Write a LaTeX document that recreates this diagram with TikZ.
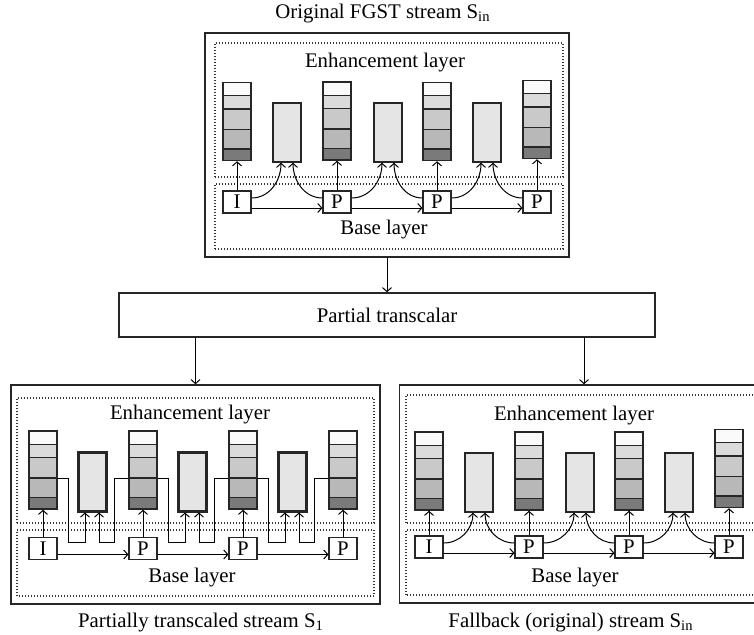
\documentclass[tikz,border=0pt]{standalone}
\usepackage{fontspec}
\setmainfont{Liberation Serif}
\usepackage{tikz}
\usetikzlibrary{arrows.meta,calc,positioning}

\newcommand\band[3]{%
  \filldraw[fill=#3,draw=black!85,line width=0.7pt]
    ($(path picture bounding box.north west)!#1!(path picture bounding box.south west)$) rectangle
    ($(path picture bounding box.north east)!#2!(path picture bounding box.south east)$);}

\begin{document}
\begin{tikzpicture}[x=0.5pt,y=0.5pt,>={Straight Barb[length=2pt,width=4.5pt]},node distance=50pt,
  font=\fontsize{10.4}{12}\selectfont,line width=0.5pt]
\tikzstyle{panel}=[draw=black!85,line width=0.75pt,inner sep=0pt]
\tikzstyle{layer}=[draw=black!80,line width=0.6pt,dash pattern=on 0.5pt off 1pt]
\tikzstyle{frame}=[draw=black!85,line width=0.6pt,fill=white,minimum width=14pt,minimum height=11pt,inner sep=0pt]
\tikzstyle{stack}=[draw=black!85,line width=0.75pt,minimum width=14pt,minimum height=39pt,inner sep=0pt,
  path picture={\band{0}{0.17}{black!2}\band{0.17}{0.34}{black!14}\band{0.34}{0.6}{black!21}%
    \band{0.6}{0.85}{black!28}\band{0.85}{1}{black!52}}]
\tikzstyle{bframe}=[draw=black!85,line width=0.75pt,fill=black!10,minimum width=14pt,minimum height=29.5pt,inner sep=0pt]
\tikzstyle{bthick}=[bframe,line width=1.5pt]

\clip (0,0) rectangle (754,634);

% original stream
\node (ttitle) at (383,620) {Original FGST stream S\textsubscript{in}};
\node[panel,minimum width=182pt,minimum height=112pt] (top) at (387,489) {};
\draw[layer] (215,457) rectangle (563,591);
\draw[layer] (215,385) rectangle (563,450);
\node (tenh) at (385,571) {Enhancement layer};
\node (tbase) at (384,404) {Base layer};
\node[frame] (tI) at (237,432) {I};
\node[frame] (tP1) [right of=tI] {P};
\node[frame] (tP2) [right of=tP1] {P};
\node[frame] (tP3) [right of=tP2] {P};
\node[stack] (tE1) at (237,512.5) {};
\node[stack] (tE2) at (337,513) {};
\node[stack] (tE3) at (437,512.5) {};
\node[stack] (tE4) at (537,514.5) {};
\node[bframe] (tB1) at (287,501.5) {};
\node[bframe] (tB2) at (388,501.5) {};
\node[bframe] (tB3) at (487,501.5) {};
\path[->] (tI) edge (tE1)
          (tP1) edge (tE2)
          (tP2) edge (tE3)
          (tP3) edge (tE4)
          ([yshift=-3pt]tI.east) edge ([yshift=-3pt]tP1.west)
          ([yshift=-3pt]tP1.east) edge ([yshift=-3pt]tP2.west)
          ([yshift=-3pt]tP2.east) edge ([yshift=-3pt]tP3.west)
          ([yshift=2pt]tI.east) edge [out=0,in=-90] ([xshift=-3pt]tB1.south)
          ([yshift=2pt]tP1.west) edge [out=180,in=-90] ([xshift=3pt]tB1.south)
          ([yshift=2pt]tP1.east) edge [out=0,in=-90] ([xshift=-3pt]tB2.south)
          ([yshift=2pt]tP2.west) edge [out=180,in=-90] ([xshift=3pt]tB2.south)
          ([yshift=2pt]tP2.east) edge [out=0,in=-90] ([xshift=-3pt]tB3.south)
          ([yshift=2pt]tP3.west) edge [out=180,in=-90] ([xshift=3pt]tB3.south);

% transcalar
\node[panel,minimum width=268pt,minimum height=22pt] (trans) at (387,319) {Partial transcalar};
\draw[->] (top) -- (trans);

% partially transcaled stream
\node[panel,minimum width=184.5pt,minimum height=109.5pt] (lpanel) at (195.5,139.5) {};
\draw[->] (trans.south -| lpanel.north) -- (lpanel.north);
\draw[layer] (17,111) rectangle (374,236);
\draw[layer] (17,38) rectangle (374,104);
\node (lenh) at (190,219) {Enhancement layer};
\node (lbase) at (192,56) {Base layer};
\node (lcap) at (201,11) {Partially transcaled stream S\textsubscript{1}};
\node[frame] (lI) at (43,85.5) {I};
\node[frame] (lP1) [right of=lI] {P};
\node[frame] (lP2) [right of=lP1] {P};
\node[frame] (lP3) [right of=lP2] {P};
\node[stack] (lE1) at (43,164) {};
\node[stack] (lE2) at (143,164) {};
\node[stack] (lE3) at (243,164) {};
\node[stack] (lE4) at (343,164) {};
\node[bthick] (lB1) at (92,152.5) {};
\node[bthick] (lB2) at (192,152.5) {};
\node[bthick] (lB3) at (292,152.5) {};
\path[->] (lI) edge (lE1)
          (lP1) edge (lE2)
          (lP2) edge (lE3)
          (lP3) edge (lE4)
          ([yshift=-3pt]lI.east) edge ([yshift=-3pt]lP1.west)
          ([yshift=-3pt]lP1.east) edge ([yshift=-3pt]lP2.west)
          ([yshift=-3pt]lP2.east) edge ([yshift=-3pt]lP3.west);
\draw[->] ([yshift=-4pt]lE1.east) -- ++(11,0) -- ++(0,-64) -| ([xshift=-3.5pt]lB1.south);
\draw[->] ([yshift=-4pt]lE2.west) -- ++(-14,0) -- ++(0,-64) -| ([xshift=3.5pt]lB1.south);
\draw[->] ([yshift=-4pt]lE2.east) -- ++(11,0) -- ++(0,-64) -| ([xshift=-3.5pt]lB2.south);
\draw[->] ([yshift=-4pt]lE3.west) -- ++(-14,0) -- ++(0,-64) -| ([xshift=3.5pt]lB2.south);
\draw[->] ([yshift=-4pt]lE3.east) -- ++(11,0) -- ++(0,-64) -| ([xshift=-3.5pt]lB3.south);
\draw[->] ([yshift=-4pt]lE4.west) -- ++(-14,0) -- ++(0,-64) -| ([xshift=3.5pt]lB3.south);

% fallback stream
\node[panel,minimum width=184.5pt,minimum height=109pt] (rpanel) at (584,140) {};
\draw[->] (trans.south -| rpanel.north) -- (rpanel.north);
\draw[layer] (406,111) rectangle (762,239);
\draw[layer] (406,39) rectangle (762,104);
\node (renh) at (574,218) {Enhancement layer};
\node (rbase) at (575,56) {Base layer};
\node (rcap) at (571,11) {Fallback (original) stream S\textsubscript{in}};
\node[frame] (rI) at (429,87) {I};
\node[frame] (rP1) [right of=rI] {P};
\node[frame] (rP2) [right of=rP1] {P};
\node[frame] (rP3) [right of=rP2] {P};
\node[stack] (rE1) at (429,163) {};
\node[stack] (rE2) at (529,163) {};
\node[stack] (rE3) at (629,163) {};
\node[stack] (rE4) at (729,165.5) {};
\node[bframe] (rB1) at (479,151.5) {};
\node[bframe] (rB2) at (580,151.5) {};
\node[bframe] (rB3) at (679,151.5) {};
\path[->] (rI) edge (rE1)
          (rP1) edge (rE2)
          (rP2) edge (rE3)
          (rP3) edge (rE4)
          ([yshift=-3pt]rI.east) edge ([yshift=-3pt]rP1.west)
          ([yshift=-3pt]rP1.east) edge ([yshift=-3pt]rP2.west)
          ([yshift=-3pt]rP2.east) edge ([yshift=-3pt]rP3.west)
          ([yshift=2pt]rI.east) edge [out=0,in=-90] ([xshift=-3pt]rB1.south)
          ([yshift=2pt]rP1.west) edge [out=180,in=-90] ([xshift=3pt]rB1.south)
          ([yshift=2pt]rP1.east) edge [out=0,in=-90] ([xshift=-3pt]rB2.south)
          ([yshift=2pt]rP2.west) edge [out=180,in=-90] ([xshift=3pt]rB2.south)
          ([yshift=2pt]rP2.east) edge [out=0,in=-90] ([xshift=-3pt]rB3.south)
          ([yshift=2pt]rP3.west) edge [out=180,in=-90] ([xshift=3pt]rB3.south);
\end{tikzpicture}
\end{document}
